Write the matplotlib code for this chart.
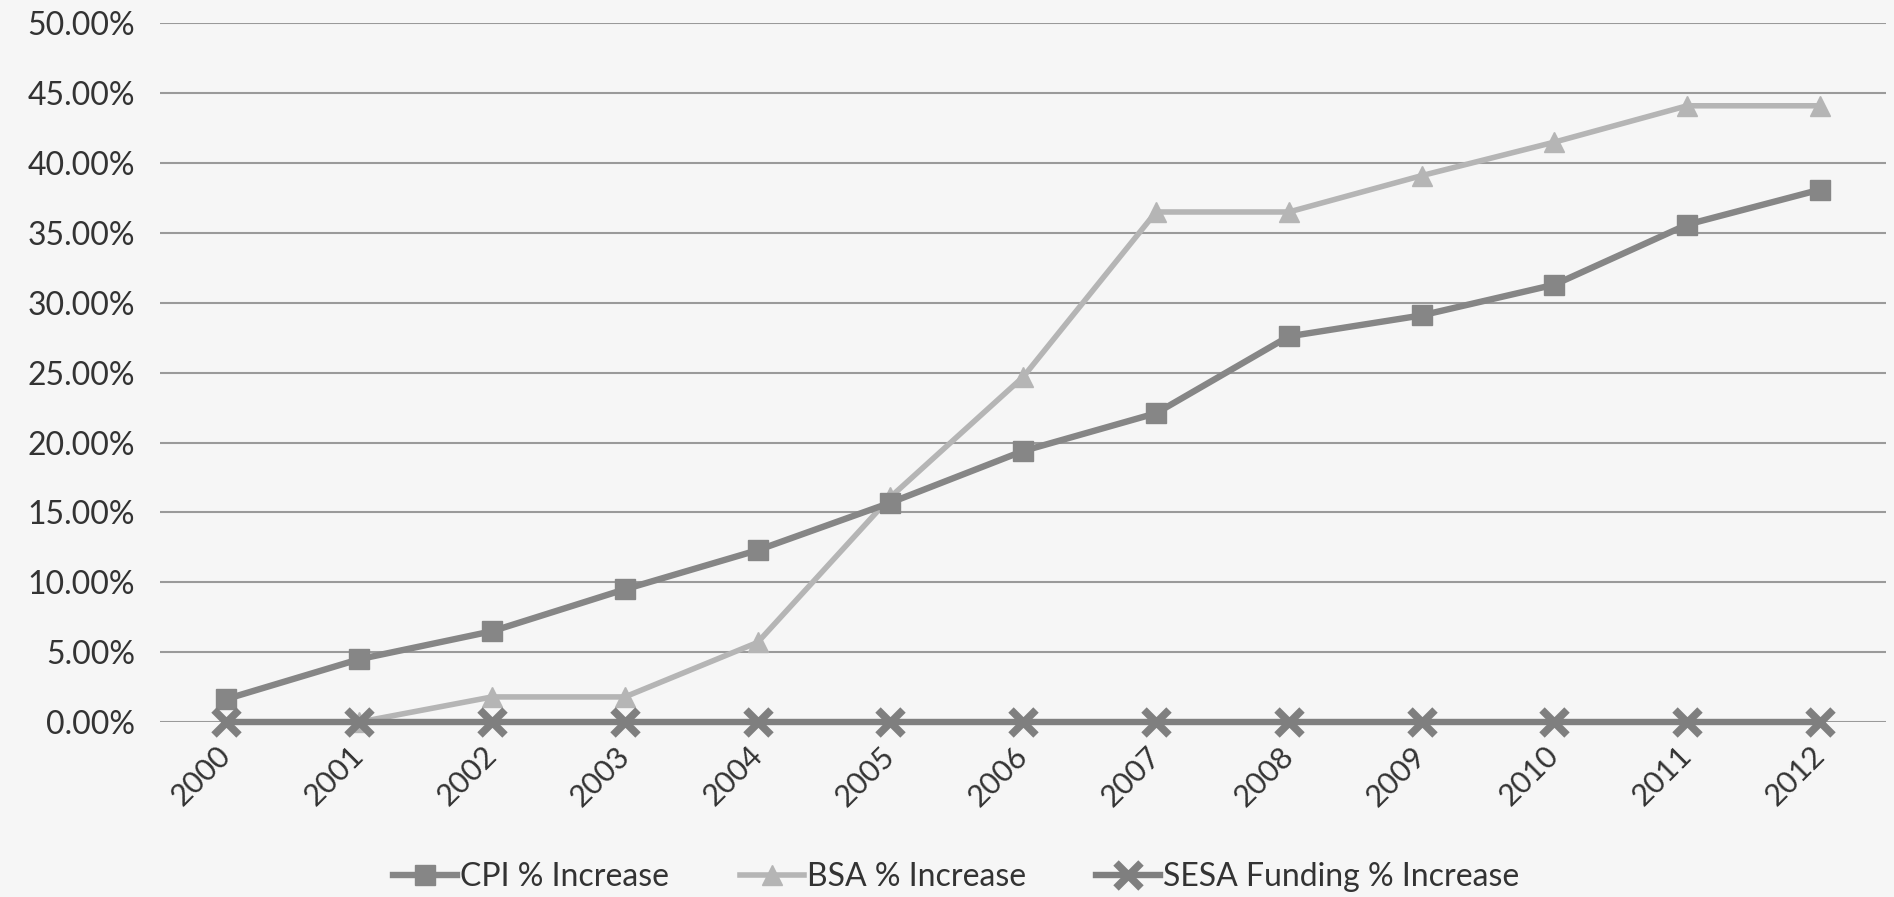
import matplotlib
matplotlib.use("Agg")
from matplotlib import pyplot as plt
from matplotlib.ticker import PercentFormatter, MultipleLocator
import numpy as np

years = ["2000", "2001", "2002", "2003", "2004", "2005", "2006",
         "2007", "2008", "2009", "2010", "2011", "2012"]
cpi = [1.65, 4.5, 6.5, 9.5, 12.3, 15.7, 19.4, 22.1, 27.6, 29.1, 31.3, 35.6, 38.1]
bsa = [np.nan, 0.0, 1.8, 1.8, 5.7, 16.1, 24.7, 36.5, 36.5, 39.1, 41.5, 44.1, 44.1]
sesa = [0.0] * 13

plt.rcParams['font.family'] = ['Lato', 'DejaVu Sans']

fig = plt.figure(figsize=(18.94, 8.97), dpi=100, facecolor="#f6f6f6")
ax = fig.add_axes([0.0845, 0.195, 0.9115, 0.779])
ax.set_facecolor("#f6f6f6")

x = np.arange(len(years))
ax.plot(x, cpi, color="#868686", lw=4.6, marker="s", ms=15,
        label="CPI % Increase", zorder=3, clip_on=False)
ax.plot(x, bsa, color="#b5b5b5", lw=4.0, marker="^", ms=15,
        label="BSA % Increase", zorder=2, clip_on=False)
ax.plot(x, sesa, color="#7f7f7f", lw=4.6, marker="x", ms=18, mew=5.5,
        label="SESA Funding % Increase", zorder=4, clip_on=False)

ax.set_xlim(-0.5, len(years) - 0.5)
ax.set_ylim(0, 50)
ax.yaxis.set_major_locator(MultipleLocator(5))
ax.yaxis.set_major_formatter(PercentFormatter(decimals=2))
ax.grid(axis="y", color="#9a9a9a", lw=1.5)
ax.set_axisbelow(True)
for s in ax.spines.values():
    s.set_visible(False)
ax.tick_params(length=0, labelsize=23, labelcolor="#333333", pad=18)
ax.set_xticks(x)
ax.set_xticklabels(years, rotation=45, fontsize=22, ha="right", va="center",
                   rotation_mode="anchor")
ax.tick_params(axis="x", pad=21)

fig.legend(loc="center", bbox_to_anchor=(0.505, 0.022), ncol=3, frameon=False,
           fontsize=23, handlelength=2.0, handletextpad=0.1, columnspacing=2.2,
           labelcolor="#333333")

fig.savefig("out.png", dpi=100, facecolor=fig.get_facecolor())
